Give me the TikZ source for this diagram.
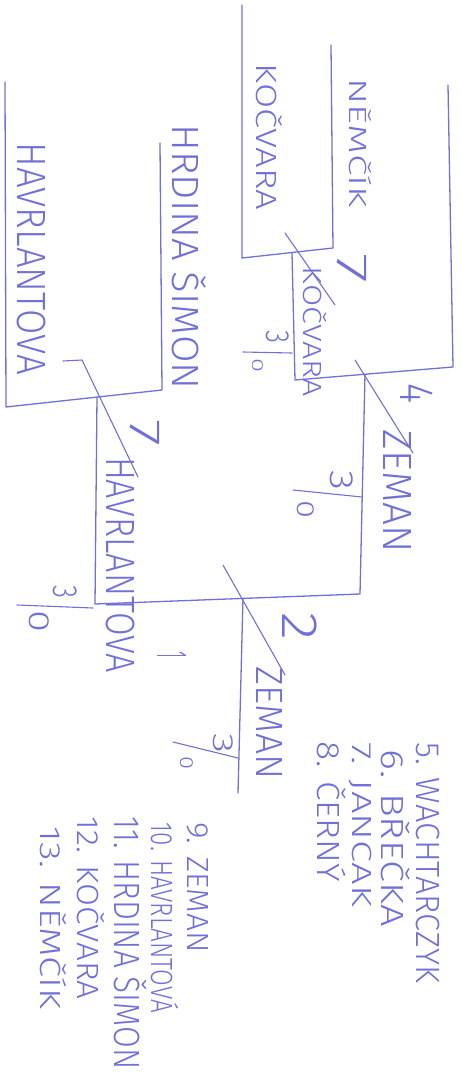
\documentclass[tikz,border=0pt]{standalone}
\usepackage{fontspec}
\setmainfont{Fira Sans Light}
\usepackage{graphicx}
\usepackage{xcolor}
\definecolor{penblue}{RGB}{112,112,214}
\newcommand{\fitname}[3]{\resizebox{#1pt}{#2pt}{\smash{#3}\vphantom{H}}}

\begin{document}
\begin{tikzpicture}[x=1pt, y=-1pt, line cap=round, line join=round,
    pen/.style={draw=penblue, line width=1.3pt},
    cut/.style={draw=penblue, line width=1.1pt},
    hand/.style={inner sep=0pt, text=penblue, rotate=-90}]
\useasboundingbox (0,0) rectangle (462,1079);
% bracket corners
\coordinate (kocA) at (242,5);
\coordinate (kocB) at (242,258);
\coordinate (nemA) at (331,45);
\coordinate (nemB) at (333,248);
\coordinate (m1) at (292,253);
\coordinate (m1end) at (295,380);
\coordinate (zemA) at (448,85);
\coordinate (zemB) at (453,367);
\coordinate (m2) at (365,374);
\coordinate (m2end) at (360,594);
\coordinate (havA) at (5,82);
\coordinate (havB) at (6,407);
\coordinate (hrdA) at (160,143);
\coordinate (hrdB) at (162,390);
\coordinate (m3) at (97,397);
\coordinate (m3end) at (95,604);
\coordinate (fin) at (243,598);
\coordinate (finend) at (238,793);
\draw[pen] (kocA) -- (kocB) -- (nemB) -- (nemA);
\draw[pen] (m1) -- (m1end) -- (zemB) -- (zemA);
\draw[pen] (havA) -- (havB) -- (hrdB) -- (hrdA);
\draw[pen] (m2) -- (m2end) -- (m3end) -- (m3);
\draw[pen] (fin) -- (finend);
% crossed junctions
\draw[cut] (285,233) -- (335,305);
\draw[cut] (355,360) -- (413,453);
\draw[cut] (63,361) -- (82,360) -- (138,477);
\draw[cut] (223,565) -- (285,675);
% names
\node[hand] (nemcik) at (358,143) {\fitname{129}{17}{NĚMČÍK}};
\node[hand] (kocvara) at (266,137) {\fitname{147}{20}{KOČVARA}};
\node[hand] (hrdina) at (185,257) {\fitname{265}{26}{HRDINA ŠIMON}};
\node[hand] (havrl) at (32,259) {\fitname{232}{28}{HAVRLANTOVA}};
\node[hand] (kocwin) at (312,332) {\fitname{130}{18}{KOČVARA}};
\node[hand] (zemsemi) at (397,491) {\fitname{123}{28}{ZEMAN}};
\node[hand] (havwin) at (120,565) {\fitname{216}{28}{HAVRLANTOVA}};
\node[hand] (zemfin) at (269,723) {\fitname{113}{26}{ZEMAN}};
% numbers
\node[hand] (n7a) at (352,268) {\fitname{30}{30}{7}};
\node[hand] (n4) at (417,393) {\fitname{20}{33}{4}};
\node[hand] (n7b) at (145,433) {\fitname{27}{30}{7}};
\node[hand] (n2) at (300,626) {\fitname{28}{35}{2}};
\node[hand] (n1) at (172,655) {\fitname{7}{30}{1}};
% scores
\node[hand] (sa3) at (278,337) {\fitname{13}{23}{3}};
\node[hand] (sa0) at (258,365) {\fitname{14}{11}{0}};
\draw[cut] (243,352) -- (292,353);
\node[hand] (sb3) at (342,480) {\fitname{20}{23}{3}};
\node[hand] (sb0) at (306,509) {\fitname{18}{17}{0}};
\draw[cut] (293,490) -- (362,497);
\node[hand] (sc3) at (65,592) {\fitname{13}{24}{3}};
\node[hand] (sc0) at (40,621) {\fitname{22}{20}{0}};
\draw[cut] (17,605) -- (93,608);
\node[hand] (sd3) at (223,743) {\fitname{20}{20}{3}};
\node[hand] (sd0) at (187,763) {\fitname{13}{13}{0}};
\draw[cut] (173,742) -- (238,758);
% final order
\foreach \i/\cx/\cy/\len/\h/\txt in {5/428/863/240/23/{5. WACHTARCZYK},
    6/392/838/177/22/{6. BŘEČKA}, 7/362/825/164/19/{7. JANCAK},
    8/328/812/140/22/{8. ČERNÝ}, 9/198/888/130/21/{9. ZEMAN},
    10/162/918/190/21/{10. HAVRLANTOVÁ}, 11/127/943/253/25/{11. HRDINA ŠIMON},
    12/88/908/183/21/{12. KOČVARA}, 13/50/918/183/20/{13. NĚMČÍK}}
  \node[hand] (li\i) at (\cx,\cy) {\fitname{\len}{\h}{\txt}};
\end{tikzpicture}
\end{document}
